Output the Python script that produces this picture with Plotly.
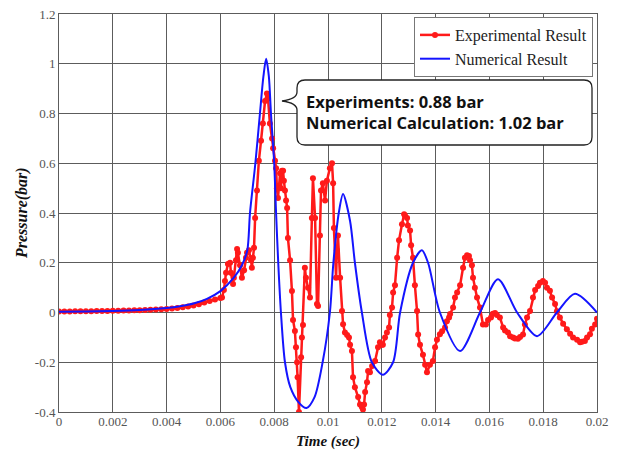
import plotly.graph_objects as go

# ---------------- data ----------------
t_exp = [0, 0.0002, 0.0004, 0.0006, 0.0008, 0.001, 0.0012, 0.0014, 0.0016, 0.0018, 0.002, 0.0022,
         0.0024, 0.0026, 0.0028, 0.003, 0.0032, 0.0034, 0.0036, 0.0038, 0.004, 0.0042, 0.0044, 0.0046,
         0.0048, 0.005, 0.0052, 0.0054, 0.0056, 0.0058, 0.006,
         0.00606, 0.00613, 0.00617, 0.00621, 0.00628, 0.00636, 0.00639, 0.00647, 0.0065, 0.00658,
         0.00662, 0.00665, 0.00673, 0.0068, 0.00688, 0.00695, 0.00699, 0.00706, 0.00714, 0.00717,
         0.00721, 0.00725, 0.00729, 0.00736, 0.00743, 0.00751, 0.00758, 0.00766, 0.00773, 0.00777,
         0.00784, 0.00792, 0.00796, 0.00803, 0.00807, 0.0081, 0.00814, 0.00822, 0.00825, 0.00829,
         0.00833, 0.00836, 0.0084, 0.00844, 0.00848, 0.00851, 0.00859, 0.00866, 0.0087, 0.00877,
         0.00881, 0.00885, 0.00887, 0.00892, 0.009, 0.00903, 0.00907, 0.00914, 0.00918, 0.00926,
         0.00933, 0.0094, 0.00944, 0.00952, 0.00959, 0.00963, 0.0097, 0.00974, 0.00981, 0.00989,
         0.00996, 0.01007, 0.01015, 0.01019, 0.01022, 0.0103, 0.01033, 0.01037, 0.01045, 0.01052,
         0.01056, 0.01063, 0.01071, 0.01078, 0.01082, 0.01089, 0.01093, 0.011, 0.01112, 0.01119,
         0.01126, 0.0113, 0.01134, 0.01138, 0.01145, 0.01149, 0.01156, 0.01164, 0.01175, 0.01186,
         0.01193, 0.01201, 0.01204, 0.01212, 0.01219, 0.01227, 0.0123, 0.01238, 0.01242, 0.01249,
         0.01257, 0.01264, 0.01275, 0.01283, 0.01286, 0.01294, 0.01297, 0.01305, 0.01309, 0.01316,
         0.01323, 0.01331, 0.01335, 0.01342, 0.01353, 0.01361, 0.01368, 0.01379, 0.0139, 0.01398,
         0.01405, 0.01416, 0.01424, 0.01435, 0.01442, 0.0145, 0.01454, 0.01465, 0.01472, 0.0148,
         0.01491, 0.01502, 0.01509, 0.01517, 0.01524, 0.01528, 0.01535, 0.01539, 0.01546, 0.01554,
         0.01565, 0.01576, 0.01587, 0.01595, 0.01606, 0.01613, 0.01621, 0.01628, 0.01639, 0.01651,
         0.01658, 0.01669, 0.01677, 0.01688, 0.01695, 0.01706, 0.01714, 0.01725, 0.01732, 0.0174,
         0.01751, 0.01762, 0.0177, 0.01781, 0.01788, 0.01799, 0.01807, 0.01814, 0.01825, 0.01833,
         0.01844, 0.01851, 0.01862, 0.01874, 0.01888, 0.019, 0.01911, 0.01926, 0.01937, 0.01944,
         0.01955, 0.01963, 0.01974, 0.01981, 0.01993, 0.02]
p_exp = [0.004, 0.004, 0.004, 0.005, 0.005, 0.005, 0.005, 0.006, 0.006, 0.006, 0.007, 0.007,
         0.008, 0.008, 0.009, 0.009, 0.010, 0.011, 0.012, 0.013, 0.014, 0.016, 0.018, 0.021,
         0.024, 0.028, 0.033, 0.040, 0.046, 0.052, 0.058,
         0.06, 0.09, 0.127, 0.16, 0.195, 0.20, 0.16, 0.115, 0.14, 0.21,
         0.255, 0.24, 0.19, 0.14, 0.17, 0.22, 0.24, 0.25, 0.21, 0.18,
         0.22, 0.26, 0.38, 0.49, 0.61, 0.69, 0.76, 0.85, 0.88, 0.86,
         0.76, 0.70, 0.66, 0.61, 0.58, 0.50, 0.46, 0.56, 0.50, 0.57,
         0.57, 0.53, 0.49, 0.45, 0.42, 0.30, 0.21, 0.086, -0.03, -0.074,
         -0.14, -0.2, -0.26, -0.40, -0.18, -0.10, -0.05, 0.18, 0.14, 0.10,
         0.06, 0.38, 0.54, 0.38, 0.034, 0.026, 0.31, 0.49, 0.52, 0.45,
         0.53, 0.58, 0.60, 0.52, 0.34, 0.14, 0.25, 0.31, 0.14, 0.006,
         -0.047, -0.08, -0.09, -0.10, -0.13, -0.155, -0.26, -0.30, -0.34, -0.37,
         -0.38, -0.39, -0.37, -0.32, -0.28, -0.235, -0.24, -0.215, -0.195, -0.14,
         -0.12, -0.13, -0.13, -0.10, -0.08, -0.06, -0.01, 0.02, 0.08, 0.11,
         0.22, 0.29, 0.355, 0.395, 0.39, 0.38, 0.35, 0.33, 0.27, 0.22,
         0.11, 0.006, -0.088, -0.13, -0.17, -0.21, -0.24, -0.21, -0.195, -0.14,
         -0.11, -0.087, -0.075, -0.06, -0.035, -0.02, -0.006, 0.02, 0.06, 0.08,
         0.11, 0.18, 0.22, 0.23, 0.227, 0.21, 0.19, 0.14, 0.10, 0.06,
         0.02, -0.048, -0.048, -0.03, -0.02, -0.005, -0.002, -0.01, -0.02, -0.06,
         -0.072, -0.08, -0.095, -0.10, -0.105, -0.106, -0.098, -0.088, -0.048, -0.02,
         0.006, 0.06, 0.09, 0.107, 0.12, 0.127, 0.12, 0.10, 0.087, 0.06,
         0.034, 0.005, -0.02, -0.045, -0.067, -0.085, -0.10, -0.11, -0.12, -0.118,
         -0.115, -0.10, -0.087, -0.065, -0.048, -0.025, -0.014]

t_num = [0, 0.001, 0.002, 0.003, 0.004, 0.0045, 0.005, 0.0055, 0.006, 0.0065, 0.0068, 0.007,
         0.0071, 0.0073, 0.00747, 0.0076, 0.0077, 0.0078, 0.00788, 0.008, 0.00807, 0.00815, 0.00825,
         0.0084, 0.0086, 0.0089, 0.0092, 0.0095, 0.0098, 0.01007, 0.0102, 0.0104, 0.01056,
         0.01082, 0.011, 0.01126, 0.01163, 0.01204, 0.01242, 0.01268, 0.01316, 0.01349, 0.01372,
         0.01416, 0.01491, 0.01565, 0.01632, 0.01703, 0.01777, 0.01851, 0.01918, 0.02]
p_num = [0.003, 0.004, 0.006, 0.01, 0.018, 0.025, 0.036, 0.055, 0.086, 0.14, 0.19, 0.25,
         0.4, 0.6, 0.8, 0.95, 1.02, 0.95, 0.8, 0.6, 0.4, 0.2, 0.0,
         -0.2, -0.3, -0.36, -0.384, -0.34, -0.2, 0.0, 0.2, 0.4, 0.476,
         0.368, 0.2, 0.0, -0.2, -0.25, -0.2, 0.0, 0.2, 0.25, 0.2,
         0.0, -0.155, 0.0, 0.134, 0.0, -0.095, 0.0, 0.075, 0.0]

x_ticks = [0, 0.002, 0.004, 0.006, 0.008, 0.01, 0.012, 0.014, 0.016, 0.018, 0.02]
x_tick_labels = ["0", "0.002", "0.004", "0.006", "0.008", "0.01", "0.012", "0.014", "0.016", "0.018", "0.02"]
y_ticks = [-0.4, -0.2, 0, 0.2, 0.4, 0.6, 0.8, 1.0, 1.2]
y_tick_labels = ["-0.4", "-0.2", "0", "0.2", "0.4", "0.6", "0.8", "1", "1.2"]

# ---------------- figure ----------------
W, H = 619, 451
L, R, T, B = 59, 22, 14, 39
pw, ph = W - L - R, H - T - B

fig = go.Figure()
fig.add_trace(go.Scatter(x=t_exp, y=p_exp, mode="lines+markers", name="Experimental Result",
                         line=dict(color="#ff1a1a", width=2.5),
                         marker=dict(color="#ff1a1a", size=6, symbol="circle")))
fig.add_trace(go.Scatter(x=t_num, y=p_num, mode="lines", name="Numerical Result",
                         line=dict(color="#1414ff", width=2, shape="spline", smoothing=0.8)))

serif = "Liberation Serif, Times New Roman, serif"
grid = "#5c5c5c"
fig.update_xaxes(range=[0, 0.02], tickvals=x_ticks, ticktext=x_tick_labels,
                 showgrid=True, gridcolor=grid, gridwidth=1, zeroline=False,
                 showline=True, linecolor=grid, mirror=True, ticks="",
                 ticklabelstandoff=-3, automargin=False,
                 tickfont=dict(family=serif, size=13, color="#555"))
fig.update_yaxes(range=[-0.4, 1.2], tickvals=y_ticks, ticktext=y_tick_labels,
                 showgrid=True, gridcolor=grid, gridwidth=1, zeroline=False,
                 showline=True, linecolor=grid, mirror=True, ticks="", automargin=False,
                 tickfont=dict(family=serif, size=13, color="#555"))


def px2paper(x, y):
    return (x - L) / pw, (H - B - y) / ph


def path_from(points_cmds):
    out = []
    for cmd, pts in points_cmds:
        coords = []
        for (x, y) in pts:
            a, b = px2paper(x, y)
            coords.append(f"{a:.5f},{b:.5f}")
        out.append(cmd + " " + " ".join(coords))
    return " ".join(out) + " Z"


# axis titles
tx, ty = px2paper(328, 441)
fig.add_annotation(x=tx, y=ty, xref="paper", yref="paper", showarrow=False,
                   xanchor="center", yanchor="middle",
                   text="<b><i>Time (sec)</i></b>", font=dict(family=serif, size=15, color="#111"))
tx, ty = px2paper(22, 213)
fig.add_annotation(x=tx, y=ty, xref="paper", yref="paper", showarrow=False, textangle=-90,
                   xanchor="center", yanchor="middle",
                   text="<b><i>Pressure(bar)</i></b>", font=dict(family=serif, size=16, color="#111"))

# call-out bubble
bx0, bx1, by0, by1, rr = 297, 592, 80, 145, 8
bubble = path_from([
    ("M", [(bx0 + rr, by0)]),
    ("L", [(bx1 - rr, by0)]),
    ("Q", [(bx1, by0), (bx1, by0 + rr)]),
    ("L", [(bx1, by1 - rr)]),
    ("Q", [(bx1, by1), (bx1 - rr, by1)]),
    ("L", [(bx0 + rr, by1)]),
    ("Q", [(bx0, by1), (bx0, by1 - rr)]),
    ("L", [(bx0, 110)]),
    ("Q", [(bx0, 103), (282, 101)]),
    ("Q", [(bx0, 99), (bx0, 92)]),
    ("L", [(bx0, by0 + rr)]),
    ("Q", [(bx0, by0), (bx0 + rr, by0)]),
])
fig.add_shape(type="path", path=bubble, xref="paper", yref="paper",
              line=dict(color="#222", width=1.3), fillcolor="white", layer="above")

ax, ay = px2paper(304, 112)
fig.add_annotation(x=ax, y=ay, xref="paper", yref="paper", xanchor="left", yanchor="middle",
                   align="left", showarrow=False,
                   text="<b>Experiments: 0.88 bar</b><br><b>Numerical Calculation: 1.02 bar</b>",
                   font=dict(family="Open Sans, sans-serif", size=16.5, color="#111"))

lx, ly = px2paper(593, 17)
fig.update_layout(
    width=W, height=H,
    margin=dict(l=L, r=R, t=T, b=B, pad=0),
    paper_bgcolor="white", plot_bgcolor="white",
    showlegend=True,
    legend=dict(x=lx, y=ly, xanchor="right", yanchor="top",
                bgcolor="white", bordercolor="#777", borderwidth=1,
                font=dict(family=serif, size=16, color="#222"),
                itemwidth=30, tracegroupgap=0),
)

fig.write_html("out.html")
